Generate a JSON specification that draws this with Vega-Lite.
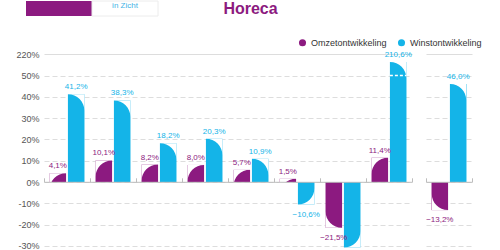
{
  "$schema": "https://vega.github.io/schema/vega-lite/v6.json",
  "padding": {"left": 15, "top": 0, "right": 5, "bottom": 5},
  "autosize": {"type": "pad"},
  "config": {
    "font": "Liberation Sans",
    "view": {"stroke": null},
    "axis": {"labelFont": "Liberation Sans"},
    "legend": {"labelFont": "Liberation Sans"}
  },
  "datasets": {
    "kop": [
      {"deel": "merk"},
      {"deel": "in Zicht"},
      {"deel": "Horeca"}
    ],
    "groei": [
      {"groep": "A", "reeks": "Omzetontwikkeling", "waarde": 4.1},
      {"groep": "A", "reeks": "Winstontwikkeling", "waarde": 41.2},
      {"groep": "B", "reeks": "Omzetontwikkeling", "waarde": 10.1},
      {"groep": "B", "reeks": "Winstontwikkeling", "waarde": 38.3},
      {"groep": "C", "reeks": "Omzetontwikkeling", "waarde": 8.2},
      {"groep": "C", "reeks": "Winstontwikkeling", "waarde": 18.2},
      {"groep": "D", "reeks": "Omzetontwikkeling", "waarde": 8.0},
      {"groep": "D", "reeks": "Winstontwikkeling", "waarde": 20.3},
      {"groep": "E", "reeks": "Omzetontwikkeling", "waarde": 5.7},
      {"groep": "E", "reeks": "Winstontwikkeling", "waarde": 10.9},
      {"groep": "F", "reeks": "Omzetontwikkeling", "waarde": 1.5},
      {"groep": "F", "reeks": "Winstontwikkeling", "waarde": -10.6},
      {"groep": "G", "reeks": "Omzetontwikkeling", "waarde": -21.5},
      {"groep": "G", "reeks": "Winstontwikkeling", "waarde": -30.8},
      {"groep": "H", "reeks": "Omzetontwikkeling", "waarde": 11.4},
      {"groep": "H", "reeks": "Winstontwikkeling", "waarde": 210.6, "breuk": 50}
    ],
    "totaal": [
      {"groep": "Totaal", "reeks": "Omzetontwikkeling", "waarde": -13.2},
      {"groep": "Totaal", "reeks": "Winstontwikkeling", "waarde": 46.0}
    ]
  },
  "spacing": 33,
  "vconcat": [
    {
      "data": {"name": "kop"},
      "width": 368,
      "height": 15,
      "encoding": {
        "x": {
          "field": "deel",
          "type": "nominal",
          "scale": {"domain": ["merk", "in Zicht", "leeg", "Horeca"], "range": [-18, 246], "paddingInner": 0, "paddingOuter": 0},
          "axis": null
        }
      },
      "layer": [
        {
          "transform": [{"filter": "datum.deel == 'merk'"}],
          "mark": {"type": "rect", "color": "#8c1a80"}
        },
        {
          "transform": [{"filter": "datum.deel == 'in Zicht'"}],
          "mark": {"type": "rect", "color": "#ffffff", "stroke": "#ececec", "strokeWidth": 1}
        },
        {
          "transform": [{"filter": "datum.deel == 'in Zicht'"}],
          "mark": {"type": "text", "fontSize": 8, "color": "#3fb3e6", "dy": -2.5},
          "encoding": {"text": {"field": "deel"}}
        },
        {
          "transform": [{"filter": "datum.deel == 'Horeca'"}],
          "mark": {"type": "text", "fontSize": 16, "fontWeight": "bold", "color": "#8c1a80", "dx": -6.5, "baseline": "alphabetic", "dy": 5.5},
          "encoding": {"text": {"field": "deel"}}
        }
      ]
    },
    {
      "spacing": 12,
      "hconcat": [
        {
          "data": {"name": "groei"},
          "width": 368,
          "height": 213,
          "transform": [
            {"calculate": "replace(format(datum.waarde, '.1f'), '.', ',') + '%'", "as": "etiket"}
          ],
          "encoding": {
            "x": {
              "field": "groep",
              "type": "nominal",
              "sort": null,
              "scale": {"paddingInner": 0, "paddingOuter": 0},
              "axis": {"title": null, "labels": false, "offset": -85.2, "tickBand": "extent", "tickSize": -4, "tickColor": "#bdbdbd", "domainColor": "#bdbdbd", "grid": false, "zindex": 1}
            },
            "xOffset": {
              "field": "reeks",
              "type": "nominal",
              "scale": {"domain": ["Omzetontwikkeling", "Winstontwikkeling"], "paddingInner": 0.1, "paddingOuter": 0.3}
            },
            "y": {
              "field": "waarde",
              "type": "quantitative",
              "scale": {"domain": [-40, 50, 210.6, 220], "range": [213.2, 21.5, 8, 0], "nice": false, "zero": false},
              "axis": {
                "title": null,
                "values": [-30, -20, -10, 0, 10, 20, 30, 40, 50, 220],
                "labelExpr": "datum.value + '%'",
                "domain": false,
                "ticks": false,
                "labelPadding": 5,
                "labelFontSize": 9,
                "labelColor": "#555555",
                "gridColor": "#dddddd",
                "gridDash": {"condition": {"test": "datum.value == 220", "value": []}, "value": [5, 3]}
              }
            }
          },
          "layer": [
            {
              "mark": {"type": "bar"},
              "encoding": {
                "color": {
                  "field": "reeks",
                  "type": "nominal",
                  "scale": {"domain": ["Omzetontwikkeling", "Winstontwikkeling"], "range": ["#8c1a80", "#14b4e8"]},
                  "legend": {"orient": "none", "legendX": 254, "legendY": 37, "direction": "horizontal", "title": null, "symbolType": "circle", "symbolSize": 50, "labelFontSize": 9, "labelColor": "#333333", "columnPadding": 10, "labelOffset": 4}
                }
              }
            },
            {
              "transform": [{"filter": "datum.reeks == 'Omzetontwikkeling' && datum.waarde >= 0"}],
              "mark": {"type": "point", "shape": "M -1 0 L 1 0 A 2 2 0 0 0 -1 2 Z", "size": 276, "filled": true, "color": "#ffffff", "opacity": 1, "strokeWidth": 0}
            },
            {
              "transform": [{"filter": "datum.reeks == 'Winstontwikkeling' && datum.waarde >= 0"}],
              "mark": {"type": "point", "shape": "M 1 0 L -1 0 A 2 2 0 0 1 1 2 Z", "size": 276, "filled": true, "color": "#ffffff", "opacity": 1, "strokeWidth": 0}
            },
            {
              "transform": [{"filter": "datum.reeks == 'Omzetontwikkeling' && datum.waarde < 0"}],
              "mark": {"type": "point", "shape": "M -1 0 L 1 0 A 2 2 0 0 1 -1 -2 Z", "size": 276, "filled": true, "color": "#ffffff", "opacity": 1, "strokeWidth": 0}
            },
            {
              "transform": [{"filter": "datum.reeks == 'Winstontwikkeling' && datum.waarde < 0"}],
              "mark": {"type": "point", "shape": "M 1 0 L -1 0 A 2 2 0 0 0 1 -2 Z", "size": 276, "filled": true, "color": "#ffffff", "opacity": 1, "strokeWidth": 0}
            },
            {
              "transform": [{"filter": "isValid(datum.breuk)"}],
              "mark": {"type": "point", "shape": "M -1 0 L 1 0", "size": 276, "filled": false, "stroke": "#ffffff", "strokeWidth": 1.5, "strokeDash": [3, 2], "opacity": 1},
              "encoding": {"y": {"field": "breuk", "type": "quantitative"}}
            },
            {
              "transform": [{"filter": "datum.waarde >= 0"}],
              "mark": {"type": "text", "fontSize": 8, "baseline": "bottom", "dy": -3},
              "encoding": {
                "text": {"field": "etiket"},
                "color": {"field": "reeks", "type": "nominal"}
              }
            },
            {
              "transform": [{"filter": "datum.waarde < 0"}],
              "mark": {"type": "text", "fontSize": 8, "baseline": "top", "dy": 6},
              "encoding": {
                "text": {"field": "etiket"},
                "color": {"field": "reeks", "type": "nominal"}
              }
            }
          ]
        },
        {
          "data": {"name": "totaal"},
          "width": 46,
          "height": 213,
          "transform": [
            {"calculate": "replace(format(datum.waarde, '.1f'), '.', ',') + '%'", "as": "etiket"}
          ],
          "encoding": {
            "x": {
              "field": "groep",
              "type": "nominal",
              "scale": {"paddingInner": 0, "paddingOuter": 0},
              "axis": {"title": null, "labels": false, "offset": -85.2, "tickBand": "extent", "tickSize": -4, "tickColor": "#bdbdbd", "domainColor": "#bdbdbd", "grid": false, "zindex": 1}
            },
            "xOffset": {
              "field": "reeks",
              "type": "nominal",
              "scale": {"domain": ["Omzetontwikkeling", "Winstontwikkeling"], "paddingInner": 0.1, "paddingOuter": 0.3}
            },
            "y": {
              "field": "waarde",
              "type": "quantitative",
              "scale": {"domain": [-40, 50, 210.6, 220], "range": [213.2, 21.5, 8, 0], "nice": false, "zero": false},
              "axis": {
                "title": null,
                "values": [-30, -20, -10, 0, 10, 20, 30, 40, 50, 220],
                "labels": false,
                "domain": false,
                "ticks": false,
                "gridColor": "#dddddd",
                "gridDash": {"condition": {"test": "datum.value == 220", "value": []}, "value": [5, 3]}
              }
            }
          },
          "layer": [
            {
              "mark": {"type": "bar"},
              "encoding": {
                "color": {
                  "field": "reeks",
                  "type": "nominal",
                  "scale": {"domain": ["Omzetontwikkeling", "Winstontwikkeling"], "range": ["#8c1a80", "#14b4e8"]},
                  "legend": null
                }
              }
            },
            {
              "transform": [{"filter": "datum.reeks == 'Omzetontwikkeling' && datum.waarde >= 0"}],
              "mark": {"type": "point", "shape": "M -1 0 L 1 0 A 2 2 0 0 0 -1 2 Z", "size": 256, "filled": true, "color": "#ffffff", "opacity": 1, "strokeWidth": 0}
            },
            {
              "transform": [{"filter": "datum.reeks == 'Winstontwikkeling' && datum.waarde >= 0"}],
              "mark": {"type": "point", "shape": "M 1 0 L -1 0 A 2 2 0 0 1 1 2 Z", "size": 256, "filled": true, "color": "#ffffff", "opacity": 1, "strokeWidth": 0}
            },
            {
              "transform": [{"filter": "datum.reeks == 'Omzetontwikkeling' && datum.waarde < 0"}],
              "mark": {"type": "point", "shape": "M -1 0 L 1 0 A 2 2 0 0 1 -1 -2 Z", "size": 256, "filled": true, "color": "#ffffff", "opacity": 1, "strokeWidth": 0}
            },
            {
              "transform": [{"filter": "datum.reeks == 'Winstontwikkeling' && datum.waarde < 0"}],
              "mark": {"type": "point", "shape": "M 1 0 L -1 0 A 2 2 0 0 0 1 -2 Z", "size": 256, "filled": true, "color": "#ffffff", "opacity": 1, "strokeWidth": 0}
            },
            {
              "transform": [{"filter": "datum.waarde >= 0"}],
              "mark": {"type": "text", "fontSize": 8, "baseline": "bottom", "dy": -3},
              "encoding": {
                "text": {"field": "etiket"},
                "color": {"field": "reeks", "type": "nominal", "legend": null}
              }
            },
            {
              "transform": [{"filter": "datum.waarde < 0"}],
              "mark": {"type": "text", "fontSize": 8, "baseline": "top", "dy": 6},
              "encoding": {
                "text": {"field": "etiket"},
                "color": {"field": "reeks", "type": "nominal", "legend": null}
              }
            }
          ]
        }
      ]
    }
  ]
}
